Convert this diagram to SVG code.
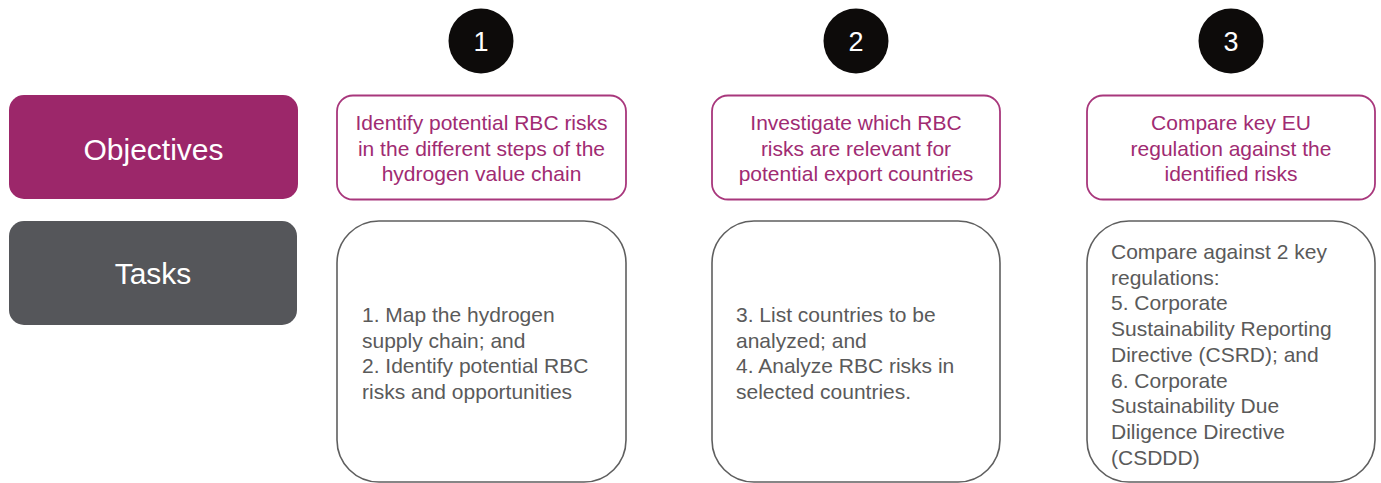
<svg xmlns="http://www.w3.org/2000/svg" width="1381" height="483" viewBox="0 0 1381 483">
<style>
text{font-family:"Liberation Sans",Arial,sans-serif}
.hdr{font-size:30px;fill:#ffffff;text-anchor:middle}
.num{font-size:27px;fill:#ffffff;text-anchor:middle}
.obj{fill:#ffffff;stroke:#a8377c;stroke-width:1.8}
.objt{font-size:21px;fill:#a02b72;text-anchor:middle}
.task{fill:#ffffff;stroke:#5f5f5f;stroke-width:1.6}
.taskt{font-size:21px;fill:#5a5a5a}
.circ{fill:#0d0b0a}
</style>
<rect width="1381" height="483" fill="#ffffff"/>
<g id="objectives-label">
<rect x="9" y="95" width="289" height="104" rx="15" fill="#9c276a"/>
<text class="hdr" x="153.5" y="160">Objectives</text>
</g>
<g id="tasks-label">
<rect x="9" y="221" width="288" height="104" rx="15" fill="#55565a"/>
<text class="hdr" x="153" y="284">Tasks</text>
</g>
<g id="step1">
<circle class="circ" cx="481" cy="41" r="32.5"/>
<text class="num" x="481" y="51">1</text>
</g>
<g id="step2">
<circle class="circ" cx="856" cy="41" r="32.5"/>
<text class="num" x="856" y="51">2</text>
</g>
<g id="step3">
<circle class="circ" cx="1231" cy="41" r="32.5"/>
<text class="num" x="1231" y="51">3</text>
</g>
<g id="objective1">
<rect class="obj" x="337" y="95.5" width="289" height="104" rx="16"/>
<text class="objt" x="481.5" y="130">Identify potential RBC risks</text>
<text class="objt" x="481.5" y="155.5">in the different steps of the</text>
<text class="objt" x="481.5" y="181">hydrogen value chain</text>
</g>
<g id="objective2">
<rect class="obj" x="712" y="95.5" width="288" height="104" rx="16"/>
<text class="objt" x="856" y="130">Investigate which RBC</text>
<text class="objt" x="856" y="155.5">risks are relevant for</text>
<text class="objt" x="856" y="181">potential export countries</text>
</g>
<g id="objective3">
<rect class="obj" x="1087" y="95.5" width="288" height="104" rx="16"/>
<text class="objt" x="1231" y="130">Compare key EU</text>
<text class="objt" x="1231" y="155.5">regulation against the</text>
<text class="objt" x="1231" y="181">identified risks</text>
</g>
<g id="task1">
<rect class="task" x="337" y="221" width="289" height="261" rx="42"/>
<text class="taskt" x="362" y="322">1. Map the hydrogen</text>
<text class="taskt" x="362" y="347.7">supply chain; and</text>
<text class="taskt" x="362" y="373.4">2. Identify potential RBC</text>
<text class="taskt" x="362" y="399.1">risks and opportunities</text>
</g>
<g id="task2">
<rect class="task" x="712" y="221" width="288" height="261" rx="42"/>
<text class="taskt" x="736" y="322">3. List countries to be</text>
<text class="taskt" x="736" y="347.7">analyzed; and</text>
<text class="taskt" x="736" y="373.4">4. Analyze RBC risks in</text>
<text class="taskt" x="736" y="399.1">selected countries.</text>
</g>
<g id="task3">
<rect class="task" x="1087" y="221" width="288" height="261" rx="42"/>
<text class="taskt" x="1111" y="259">Compare against 2 key</text>
<text class="taskt" x="1111" y="284.7">regulations:</text>
<text class="taskt" x="1111" y="310.4">5. Corporate</text>
<text class="taskt" x="1111" y="336.1">Sustainability Reporting</text>
<text class="taskt" x="1111" y="361.8">Directive (CSRD); and</text>
<text class="taskt" x="1111" y="387.5">6. Corporate</text>
<text class="taskt" x="1111" y="413.2">Sustainability Due</text>
<text class="taskt" x="1111" y="438.9">Diligence Directive</text>
<text class="taskt" x="1111" y="464.6">(CSDDD)</text>
</g>
<g id="connectors"></g>
</svg>
